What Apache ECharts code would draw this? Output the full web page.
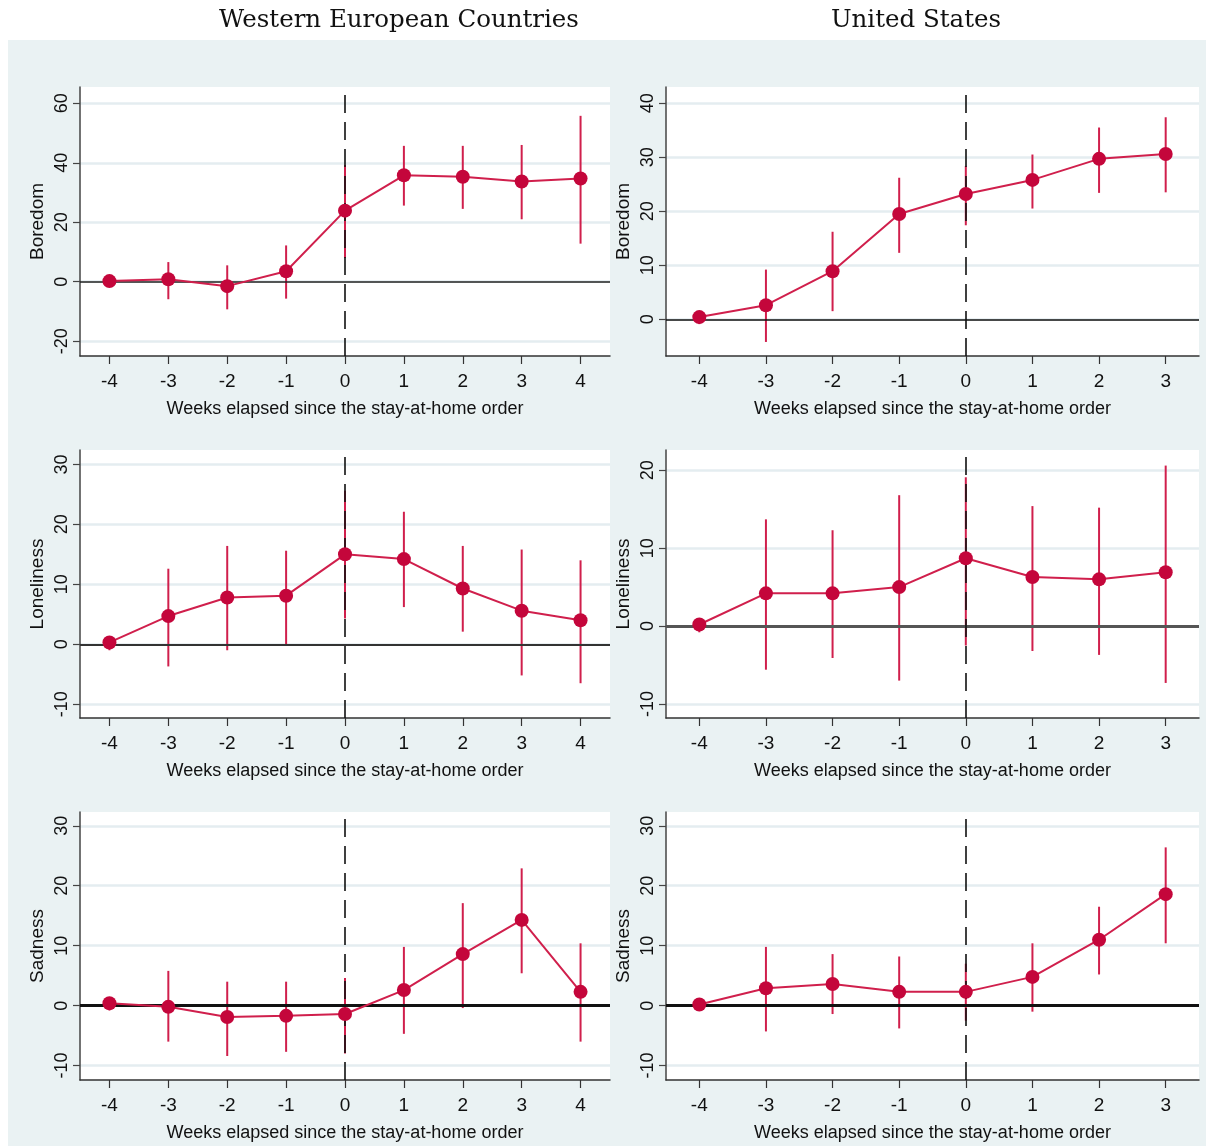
<!DOCTYPE html>
<html>
<head>
<meta charset="utf-8">
<script src="https://cdn.jsdelivr.net/npm/echarts@6/dist/echarts.min.js"></script>
<style>
html,body{margin:0;padding:0;background:#fff;}
#chart{width:1206px;height:1146px;}
</style>
</head>
<body>
<div id="chart"></div>
<script>
// ---- data ----
const weeksEU = [-4, -3, -2, -1, 0, 1, 2, 3, 4];
const weeksUS = [-4, -3, -2, -1, 0, 1, 2, 3];

const euBoredom   = [0.2, 0.8, -1.5, 3.5, 23.9, 35.8, 35.3, 33.7, 34.7];
const euBoredomLo = [-1.5, -5.9, -9.3, -5.7, 8.0, 25.6, 24.5, 21.0, 12.8];
const euBoredomHi = [2.0, 6.6, 5.5, 12.2, 39.3, 45.7, 45.7, 46.0, 55.8];

const usBoredom   = [0.4, 2.6, 8.9, 19.5, 23.2, 25.8, 29.7, 30.6];
const usBoredomLo = [-0.9, -4.2, 1.5, 12.3, 17.4, 20.5, 23.4, 23.5];
const usBoredomHi = [1.2, 9.2, 16.2, 26.2, 28.4, 30.5, 35.5, 37.4];

const euLoneliness   = [0.3, 4.7, 7.8, 8.1, 15.0, 14.2, 9.3, 5.6, 4.0];
const euLonelinessLo = [-1.0, -3.7, -1.0, 0.0, 4.3, 6.2, 2.1, -5.2, -6.5];
const euLonelinessHi = [1.2, 12.6, 16.4, 15.6, 25.6, 22.1, 16.4, 15.8, 14.0];

const usLoneliness   = [0.2, 4.2, 4.2, 5.0, 8.7, 6.3, 6.0, 6.9];
const usLonelinessLo = [-0.8, -5.6, -4.1, -7.0, -2.5, -3.2, -3.7, -7.3];
const usLonelinessHi = [1.0, 13.7, 12.3, 16.8, 19.1, 15.4, 15.2, 20.6];

const euSadness   = [0.4, -0.2, -1.9, -1.7, -1.4, 2.6, 8.6, 14.3, 2.3];
const euSadnessLo = [-0.8, -6.0, -8.4, -7.7, -8.0, -4.7, -0.4, 5.4, -6.0];
const euSadnessHi = [1.2, 5.8, 4.0, 4.0, 4.6, 9.8, 17.1, 22.9, 10.4];

const usSadness   = [0.2, 2.9, 3.6, 2.3, 2.3, 4.8, 11.0, 18.6];
const usSadnessLo = [-0.8, -4.3, -1.4, -3.8, -2.5, -1.0, 5.2, 10.4];
const usSadnessHi = [1.0, 9.8, 8.6, 8.2, 7.0, 10.4, 16.5, 26.4];

// tick labels
const ticksEUBoredom = [-20, 0, 20, 40, 60];
const ticksUSBoredom = [0, 10, 20, 30, 40];
const ticksEULoneliness = [-10, 0, 10, 20, 30];
const ticksUSLoneliness = [-10, 0, 10, 20];
const ticksEUSadness = [-10, 0, 10, 20, 30];
const ticksUSSadness = [-10, 0, 10, 20, 30];

const titles = ['Western European Countries', 'United States'];
const xTitle = 'Weeks elapsed since the stay-at-home order';

// ---- layout / style ----
const BG = '#eaf2f3';
const RED_M = '#c4063b';
const RED_L = '#d01f4c';
const SANS = "'Liberation Sans Narrow', 'Liberation Sans', Arial, sans-serif";
const SERIF = "24.5px 'DejaVu Serif', 'Liberation Serif', serif";

const panels = [
  {name:'Boredom', weeks:weeksEU, v:euBoredom, lo:euBoredomLo, hi:euBoredomHi, ticks:ticksEUBoredom, min:-25, max:65.5,
   box:{left:80, top:87, width:530, height:269}, zeroW:1.5, zeroC:'#222'},
  {name:'Boredom', weeks:weeksUS, v:usBoredom, lo:usBoredomLo, hi:usBoredomHi, ticks:ticksUSBoredom, min:-6.8, max:43,
   box:{left:666, top:87, width:533, height:269}, zeroW:1.5, zeroC:'#111'},
  {name:'Loneliness', weeks:weeksEU, v:euLoneliness, lo:euLonelinessLo, hi:euLonelinessHi, ticks:ticksEULoneliness, min:-12.3, max:32.4,
   box:{left:80, top:450, width:530, height:268}, zeroW:2, zeroC:'#333'},
  {name:'Loneliness', weeks:weeksUS, v:usLoneliness, lo:usLonelinessLo, hi:usLonelinessHi, ticks:ticksUSLoneliness, min:-11.8, max:22.6,
   box:{left:666, top:450, width:533, height:268}, zeroW:3, zeroC:'#555'},
  {name:'Sadness', weeks:weeksEU, v:euSadness, lo:euSadnessLo, hi:euSadnessHi, ticks:ticksEUSadness, min:-12.4, max:32.3,
   box:{left:80, top:812, width:530, height:268}, zeroW:3, zeroC:'#111'},
  {name:'Sadness', weeks:weeksUS, v:usSadness, lo:usSadnessLo, hi:usSadnessHi, ticks:ticksUSSadness, min:-12.4, max:32.3,
   box:{left:666, top:812, width:533, height:268}, zeroW:3, zeroC:'#111'}
];

const grid = [], xAxis = [], yAxis = [], series = [];
panels.forEach((p, i) => {
  grid.push(Object.assign({show:true, backgroundColor:'#fff', borderWidth:0}, p.box));
  xAxis.push({
    type:'category', gridIndex:i, data:p.weeks.map(String), boundaryGap:true,
    axisLine:{show:true, onZero:false, lineStyle:{color:'#333', width:1.5}},
    axisTick:{show:true, alignWithLabel:true, length:8, lineStyle:{color:'#333', width:1.2}},
    axisLabel:{fontFamily:SANS, fontSize:19, color:'#111', margin:16},
    splitLine:{show:false},
    name:xTitle, nameLocation:'middle', nameGap:44,
    nameTextStyle:{fontFamily:SANS, fontSize:18, color:'#111'}
  });
  yAxis.push({
    type:'value', gridIndex:i, min:p.min, max:p.max,
    axisLine:{show:true, lineStyle:{color:'#444', width:1.5}},
    axisTick:{show:true, length:7, customValues:p.ticks, lineStyle:{color:'#444', width:1.2}},
    axisLabel:{customValues:p.ticks, rotate:90, fontFamily:SANS, fontSize:18, color:'#111', margin:9},
    splitLine:{show:true, lineStyle:{color:'#e4edf0', width:2.5}},
    name:p.name, nameLocation:'middle', nameGap:33, nameRotate:90,
    nameTextStyle:{fontFamily:SANS, fontSize:19, color:'#111'}
  });
  const zeroIdx = p.weeks.indexOf(0);
  series.push({
    type:'custom', xAxisIndex:i, yAxisIndex:i, z:2,
    data:p.weeks.map((w, k) => [k, p.lo[k], p.hi[k]]),
    encode:{x:0, y:[1,2]},
    renderItem:function(params, api){
      const a = api.coord([api.value(0), api.value(1)]);
      const b = api.coord([api.value(0), api.value(2)]);
      return {type:'line', shape:{x1:a[0], y1:a[1], x2:b[0], y2:b[1]}, style:{stroke:RED_L, lineWidth:2}};
    },
    markLine:{
      silent:true, symbol:'none', label:{show:false}, animation:false,
      data:[
        {yAxis:0, lineStyle:{type:'solid', color:p.zeroC, width:p.zeroW}},
        {xAxis:zeroIdx, lineStyle:{type:[18, 9], color:'#111', width:1.6}}
      ]
    }
  });
  series.push({
    type:'line', xAxisIndex:i, yAxisIndex:i, z:5, data:p.v,
    symbol:'circle', symbolSize:14,
    itemStyle:{color:RED_M},
    lineStyle:{color:RED_L, width:2}
  });
});

const chart = echarts.init(document.getElementById('chart'), null, {renderer:'canvas'});
chart.setOption({
  animation:false,
  backgroundColor:'#fff',
  graphic:[
    {type:'rect', shape:{x:8, y:40, width:1198, height:1106}, style:{fill:BG}, z:-10, silent:true},
    {type:'text', x:399, y:21, style:{text:titles[0], font:SERIF, fill:'#111', textAlign:'center', textVerticalAlign:'middle'}},
    {type:'text', x:916, y:21, style:{text:titles[1], font:SERIF, fill:'#111', textAlign:'center', textVerticalAlign:'middle'}}
  ],
  grid, xAxis, yAxis, series
});
</script>
</body>
</html>
